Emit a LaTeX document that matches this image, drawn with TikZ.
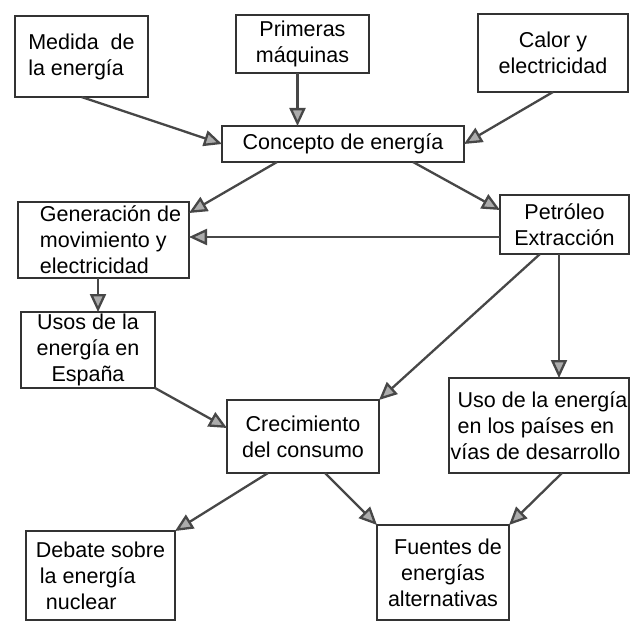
\documentclass[tikz,border=0pt]{standalone}
\usepackage{fontspec}
\setmainfont{Liberation Sans}
\usetikzlibrary{arrows.meta,calc}

\begin{document}
\begin{tikzpicture}[x=1pt,y=-1pt,
  box/.style={draw=black!80, line width=2.8pt, fill=white, inner sep=0pt, outer sep=0pt,
    font=\fontsize{21.5}{26}\selectfont},
  link/.style={draw=black!72, line width=2.3pt,
    -{Triangle[length=18pt,width=16pt,fill=gray!65]}}
]
\useasboundingbox (0,0) rectangle (631,623);

% concept boxes
\node[box, minimum width=133, minimum height=81, align=left] (medida) at (81.5,56.5)
  {Medida\ \ de\\la energía};
\node[box, minimum width=133, minimum height=58, align=center] (prim) at (302.5,44)
  {Primeras\\máquinas};
\node[box, minimum width=150, minimum height=78, align=center] (calor) at (553,53)
  {Calor y\\electricidad};
\node[box, minimum width=242, minimum height=36, align=center] (conc) at (343,144)
  {Concepto de energía};
\node[box, minimum width=171, minimum height=76, align=left] (gen) at (103.5,240)
  {\hspace*{14pt}Generación de\\\hspace*{14pt}movimiento y\\\hspace*{14pt}electricidad};
\node[box, minimum width=129, minimum height=59, align=center] (petr) at (564.5,224.5)
  {Petróleo\\Extracción};
\node[box, minimum width=134, minimum height=76, align=center] (usos) at (88,350)
  {Usos de la\\energía en\\España};
\node[box, minimum width=152, minimum height=73, align=center] (crec) at (303,436.5)
  {Crecimiento\\del consumo};
\node[box, minimum width=180, minimum height=95, align=left] (uso) at (539,425.5)
  {\hspace*{7pt}Uso de la energía\\\hspace*{7pt}en los países en\\vías de desarrollo};
\node[box, minimum width=149, minimum height=89, align=left] (debate) at (100.5,575.5)
  {Debate sobre\\\hspace*{4pt}la energía\\\hspace*{10pt}nuclear};
\node[box, minimum width=132, minimum height=95, align=center] (fuentes) at (443,572.5)
  {\hspace*{10pt}Fuentes de\\energías\\alternativas};

% attachment points on the borders
\coordinate (p1) at ($(prim.south)+(-5,0)$);
\coordinate (c1) at ($(conc.south)+(-66,0)$);
\coordinate (c2) at ($(conc.south)+(70,0)$);
\coordinate (g1) at ($(gen.north east)+(0,11)$);
\coordinate (pt1) at ($(petr.north west)+(0,15)$);
\coordinate (pw) at ($(petr.west)+(0,12.5)$);
\coordinate (g2) at ($(gen.south)+(-5.5,0)$);
\coordinate (pb1) at ($(petr.south)+(-24.5,0)$);
\coordinate (pb2) at ($(petr.south)+(-5.5,0)$);
\coordinate (cw) at ($(crec.west)+(0,-8.5)$);
\coordinate (cb1) at ($(crec.south)+(-35,0)$);
\coordinate (cb2) at ($(crec.south)+(22,0)$);
\coordinate (ub) at ($(uso.south)+(23,0)$);

% connectors
\draw[link] (medida.south) -- (conc.west);
\draw[link] (p1) -- (p1 |- conc.north);
\draw[link] (calor.south) -- (conc.east);
\draw[link] (c1) -- (g1);
\draw[link] (c2) -- (pt1);
\draw[link] (pw) -- (pw -| gen.east);
\draw[link] (g2) -- (g2 |- usos.north);
\draw[link] (pb1) -- (crec.north east);
\draw[link] (pb2) -- (pb2 |- uso.north);
\draw[link] (usos.south east) -- (cw);
\draw[link] (cb1) -- (debate.north east);
\draw[link] (cb2) -- (fuentes.north west);
\draw[link] (ub) -- (fuentes.north east);
\end{tikzpicture}
\end{document}
